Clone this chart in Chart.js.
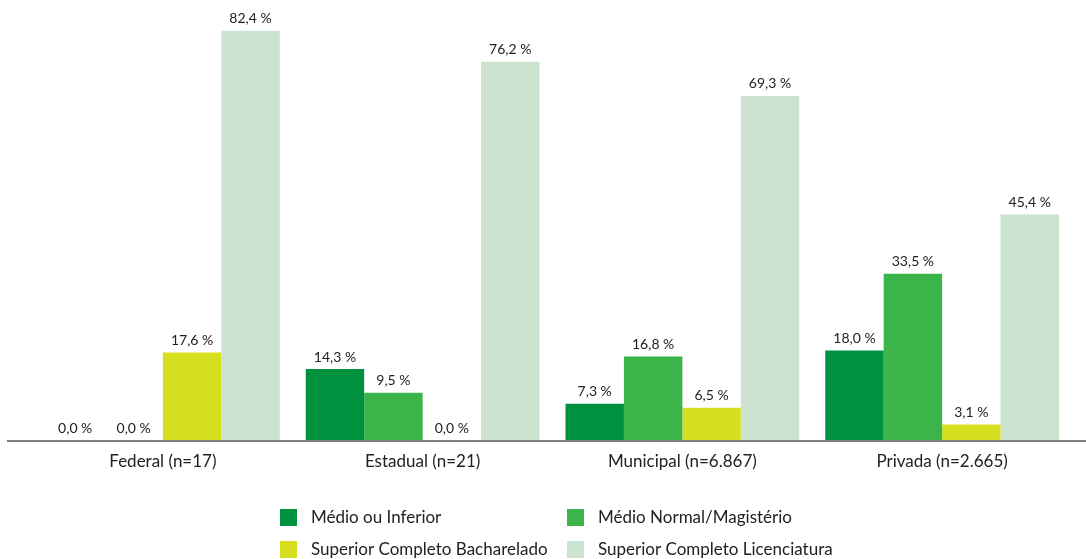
<!DOCTYPE html>
<html>
<head>
<meta charset="utf-8">
<script src="https://cdn.jsdelivr.net/npm/chart.js@4.4.1/dist/chart.umd.min.js"></script>
<style>
html,body{margin:0;padding:0;background:#fff;}
#wrap{width:1086px;height:559px;position:relative;}
</style>
</head>
<body>
<div id="wrap"><canvas id="c" width="1086" height="559"></canvas></div>
<script>
const categories = ['Federal (n=17)', 'Estadual (n=21)', 'Municipal (n=6.867)', 'Privada (n=2.665)'];
const seriesNames = ['Médio ou Inferior', 'Médio Normal/Magistério', 'Superior Completo Bacharelado', 'Superior Completo Licenciatura'];
const medioInferior = [0.0, 14.3, 7.3, 18.0];
const medioNormal = [0.0, 9.5, 16.8, 33.5];
const superiorBacharelado = [17.6, 0.0, 6.5, 3.1];
const superiorLicenciatura = [82.4, 76.2, 69.3, 45.4];
const seriesColors = ['#00913F', '#3BB54A', '#D6DF20', '#CCE3CF'];

const FONT = 'Lato, "Open Sans", sans-serif';

const valueLabels = {
  id: 'valueLabels',
  afterDatasetsDraw(chart) {
    const ctx = chart.ctx;
    ctx.save();
    ctx.font = '14px ' + FONT;
    ctx.fillStyle = '#222';
    ctx.textAlign = 'center';
    ctx.textBaseline = 'bottom';
    chart.data.datasets.forEach((ds, i) => {
      const meta = chart.getDatasetMeta(i);
      meta.data.forEach((bar, j) => {
        const v = ds.data[j];
        const txt = v.toFixed(1).replace('.', ',') + ' %';
        ctx.fillText(txt, bar.x, bar.y - 5);
      });
    });
    ctx.restore();
  }
};

const axisLine = {
  id: 'axisLine',
  afterDatasetsDraw(chart) {
    const ctx = chart.ctx;
    const a = chart.chartArea;
    ctx.save();
    ctx.strokeStyle = '#808080';
    ctx.lineWidth = 2;
    ctx.beginPath();
    ctx.moveTo(a.left - 26, a.bottom + 1);
    ctx.lineTo(chart.width, a.bottom + 1);
    ctx.stroke();
    ctx.restore();
  }
};

const customLegend = {
  id: 'customLegend',
  afterDraw(chart) {
    const ctx = chart.ctx;
    const cols = [280, 567];
    const rows = [517, 549];
    ctx.save();
    ctx.font = '17px ' + FONT;
    ctx.textBaseline = 'middle';
    ctx.textAlign = 'left';
    chart.data.datasets.forEach((ds, i) => {
      const x = cols[i % 2];
      const y = rows[Math.floor(i / 2)];
      ctx.fillStyle = ds.backgroundColor;
      ctx.fillRect(x, y - 8, 17, 17);
      ctx.fillStyle = '#222';
      ctx.fillText(ds.label, x + 31, y + 1);
    });
    ctx.restore();
  }
};

const datasets = [medioInferior, medioNormal, superiorBacharelado, superiorLicenciatura].map((d, i) => ({
  label: seriesNames[i],
  data: d,
  backgroundColor: seriesColors[i],
  borderWidth: 0,
  categoryPercentage: 0.9,
  barPercentage: 1.0
}));

new Chart(document.getElementById('c'), {
  type: 'bar',
  data: { labels: categories, datasets },
  options: {
    responsive: false,
    animation: false,
    layout: { padding: { left: 33, right: 14, top: 10, bottom: 0 } },
    plugins: { legend: { display: false }, tooltip: { enabled: false } },
    scales: {
      x: {
        grid: { display: false, drawTicks: false },
        border: { display: false },
        ticks: { color: '#222', font: { family: FONT, size: 17 }, padding: 11 },
        afterFit(scale) { scale.height = 119; }
      },
      y: {
        display: false,
        min: 0,
        max: 86.6
      }
    }
  },
  plugins: [valueLabels, axisLine, customLegend]
});
</script>
</body>
</html>
